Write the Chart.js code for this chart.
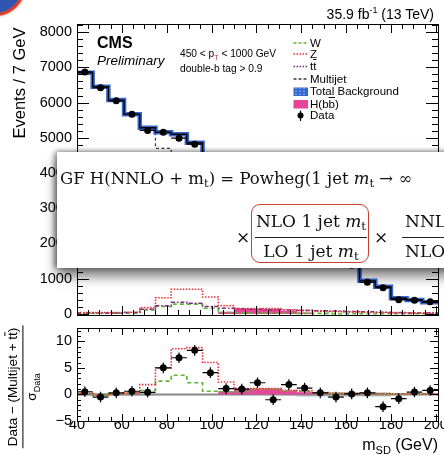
<!DOCTYPE html>
<html>
<head>
<meta charset="utf-8">
<script src="https://cdn.jsdelivr.net/npm/chart.js@4.4.1/dist/chart.umd.min.js"></script>
<style>
html, body { margin: 0; padding: 0; background: #fff; }
#page { position: relative; width: 444px; height: 455px; overflow: hidden; font-family: "Liberation Sans", Arial, sans-serif; color: #000; }
canvas { position: absolute; left: 0; }
.t { position: absolute; white-space: nowrap; line-height: 1; }
.rot { position: absolute; white-space: nowrap; line-height: 1; transform: translate(-50%, -50%) rotate(-90deg); }
.ov { text-decoration: overline; }
.leg { position: absolute; left: 310px; font-size: 11.5px; line-height: 1; white-space: nowrap; }
#logo { position: absolute; left: -38px; top: -48px; width: 58px; height: 58px; border: 3px solid #d2402f; border-radius: 50%; background: #2f55b5; box-shadow: 0 0 3px #d2402f; }
#slide { position: absolute; left: 57px; top: 152px; width: 420px; height: 116px; background: #fff; box-shadow: 0 8px 12px rgba(0,0,0,0.55), -3px 0 5px rgba(0,0,0,0.35), 0 -2px 4px rgba(0,0,0,0.2); }
.f { position: absolute; white-space: nowrap; line-height: 1; font-family: "DejaVu Serif", "Liberation Serif", serif; font-size: 17px; color: #111; }
.f sub { font-size: 0.7em; vertical-align: -0.25em; }
#redbox { position: absolute; left: 251px; top: 204px; width: 118px; height: 59px; box-sizing: border-box; border: 1.5px solid #c8412f; border-radius: 9px; }
.bar { position: absolute; height: 0; border-top: 1px solid #222; }
</style>
</head>
<body>
<div id="page">
  <div id="logo"></div>
  <canvas id="topChart" width="444" height="322" style="top:0"></canvas>
  <canvas id="ratioChart" width="444" height="133" style="top:322px"></canvas>

  <div class="t" style="right:10px; top:6px; font-size:14px;">35.9 fb<sup style="font-size:9px;">-1</sup> (13 TeV)</div>
  <div class="t" style="left:97px; top:35px; font-size:16px; font-weight:bold;">CMS</div>
  <div class="t" style="left:97px; top:54px; font-size:13.5px; font-style:italic;">Preliminary</div>
  <div class="t" style="left:180px; top:48.5px; font-size:10.2px;">450 &lt; p<sub style="font-size:7px; color:#c0392b;">T</sub> &lt; 1000 GeV</div>
  <div class="t" style="left:180px; top:64px; font-size:10.2px;">double-b tag &gt; 0.9</div>

  <svg style="position:absolute; left:290px; top:35px;" width="22" height="90">
    <line x1="3.5" x2="18" y1="8" y2="8" stroke="#5ab732" stroke-width="1.6" stroke-dasharray="3,2"/>
    <line x1="3.5" x2="18" y1="19" y2="19" stroke="#e8333a" stroke-width="1.6" stroke-dasharray="1.5,1.5"/>
    <line x1="3.5" x2="18" y1="31.5" y2="31.5" stroke="#7b2d83" stroke-width="1.6" stroke-dasharray="1.5,1.5"/>
    <line x1="3.5" x2="18" y1="44" y2="44" stroke="#3a3a3a" stroke-width="1.3" stroke-dasharray="3,2"/>
    <rect x="3.5" y="52.5" width="14.5" height="8.5" fill="#3667cf"/>
    <line x1="6" x2="6" y1="52.5" y2="61" stroke="#a8c0f0" stroke-width="1" stroke-dasharray="1.5,1.5"/>
    <line x1="10" x2="10" y1="52.5" y2="61" stroke="#a8c0f0" stroke-width="1" stroke-dasharray="1.5,1.5"/>
    <line x1="14" x2="14" y1="52.5" y2="61" stroke="#a8c0f0" stroke-width="1" stroke-dasharray="1.5,1.5"/>
    <rect x="3.5" y="65" width="14.5" height="8.5" fill="#e6459a"/>
    <line x1="10.5" x2="10.5" y1="75.5" y2="86" stroke="#000" stroke-width="1.2"/>
    <circle cx="10.5" cy="80.5" r="3" fill="#000"/>
  </svg>
  <div class="leg" style="top:37.5px;">W</div>
  <div class="leg" style="top:48.5px;">Z</div>
  <div class="leg" style="top:61px;">t<span class="ov">t</span></div>
  <div class="leg" style="top:73.5px;">Multijet</div>
  <div class="leg" style="top:86px;">Total Background</div>
  <div class="leg" style="top:98.5px;">H(b<span class="ov">b</span>)</div>
  <div class="leg" style="top:110px;">Data</div>

  <div class="rot" style="left:19px; top:83px; font-size:16.5px;">Events / 7 GeV</div>
  <div class="rot" style="left:24px; top:387px; font-size:13.5px; text-align:center;">
    <div style="padding:0 2px 2px 2px;">Data &minus; (Multijet + t<span class="ov">t</span>)</div>
    <div style="border-top:1px solid #000; padding-top:2px;">&sigma;<sub style="font-size:9px;">Data</sub></div>
  </div>
  <div class="t" style="right:6px; top:437px; font-size:16px;">m<sub style="font-size:11px;">SD</sub> (GeV)</div>

  <div id="slide"></div>
  <div class="f" style="left:60px; top:170.5px; font-size:16.5px;">GF H(NNLO + m<sub>t</sub>) = Powheg(1 jet <i>m</i><sub>t</sub> &rarr; &infin;</div>
  <div class="f" style="left:236px; top:228.5px;">&times;</div>
  <div class="f" style="left:255px; width:112px; text-align:center; top:212.5px;">NLO 1 jet <i>m</i><sub>t</sub></div>
  <div class="bar" style="left:255px; width:112px; top:237px;"></div>
  <div class="f" style="left:255px; width:112px; text-align:center; top:242.5px;">LO 1 jet <i>m</i><sub>t</sub></div>
  <div id="redbox"></div>
  <div class="f" style="left:374px; top:228.5px;">&times;</div>
  <div class="f" style="left:405px; top:212.5px;">NNLO 0 jet <i>m</i><sub>t</sub> &rarr; &infin;</div>
  <div class="bar" style="left:402px; width:60px; top:237px;"></div>
  <div class="f" style="left:405px; top:242.5px;">NLO 0 jet <i>m</i><sub>t</sub> &rarr; &infin;</div>
</div>

<script>
// binning (7 GeV bins in soft-drop mass)
const binEdges = [40, 47, 54, 61, 68, 75, 82, 89, 96, 103, 110, 117, 124, 131, 138, 145, 152, 159, 166, 173, 180, 187, 194, 201];
const binCenters = [43.5, 50.5, 57.5, 64.5, 71.5, 78.5, 85.5, 92.5, 99.5, 106.5, 113.5, 120.5, 127.5, 134.5, 141.5, 148.5, 155.5, 162.5, 169.5, 176.5, 183.5, 190.5, 197.5];

// upper panel, events / 7 GeV
const dataEvents = [6870, 6420, 6050, 5665, 5210, 5155, 4990, 4820, 4350, 3850, 3350, 2900, 2500, 2150, 1900, 1700, 1530, 1380, 900, 746, 406, 389, 349];
const dataEventsErr = [83, 80, 78, 75, 72, 72, 71, 69, 66, 62, 58, 54, 50, 46, 44, 41, 39, 37, 30, 27, 20, 20, 19];
const totalBkg = [6845, 6450, 6070, 5665, 5285, 5155, 5100, 4860, 4380, 3850, 3360, 2920, 2520, 2170, 1900, 1700, 1520, 1390, 940, 775, 445, 397, 332];
const multijet = [6830, 6440, 6060, 5640, 5220, 4700, 4420, 4250, 3950, 3600, 3200, 2780, 2400, 2080, 1830, 1650, 1480, 1350, 910, 750, 430, 385, 322];
const wJets = [20, 20, 20, 20, 110, 210, 280, 280, 160, 40, 30, 25, 20, 20, 15, 15, 10, 10, 10, 10, 5, 5, 5];
const zJets = [40, 40, 40, 50, 180, 460, 700, 700, 480, 235, 150, 150, 150, 120, 100, 80, 70, 60, 50, 40, 30, 30, 30];
const ttbar = [30, 30, 30, 40, 130, 235, 330, 300, 210, 160, 150, 130, 120, 110, 100, 90, 80, 70, 60, 50, 40, 30, 30];
const hbb = [0, 0, 0, 0, 0, 0, 0, 0, 0, 60, 150, 150, 150, 80, 40, 0, 0, 0, 0, 0, 0, 0, 0];

// lower panel, (data - (multijet + ttbar)) / sigma
const dataPull = [0.5, -0.5, 0.3, 0.6, 0.4, 5.0, 6.9, 8.3, 4.1, 1.1, 1.0, 2.2, -1.0, 1.85, 1.2, 0.3, -0.5, 0.1, 0.3, -2.3, -0.8, 0.45, 0.75];
const dataPullErr = [1, 1, 1, 1, 1, 1, 1, 1, 1, 1, 1, 1, 1, 1, 1, 1, 1, 1, 1, 1, 1, 1, 1];
const zPull = [0.2, -0.2, 0.1, 0.3, 1.85, 5.0, 8.6, 8.8, 6.0, 2.35, 1.1, 1.1, 1.1, 0.8, 0.7, 0.35, 0.2, 0.15, 0.15, 0.1, 0.1, 0.1, 0.1];
const wPull = [0.2, -0.2, 0.1, 0.3, 0.75, 2.5, 3.6, 2.2, 0.6, 0.5, 0.5, 1.0, 1.0, 0.7, 0.6, 0.3, 0.15, 0.15, 0.15, 0.1, 0.1, 0.1, 0.1];
const hbbPull = [0, 0, 0, 0, 0, 0, 0, 0, 0, 0.6, 1.0, 1.1, 1.1, 0.7, 0.4, 0.1, 0, 0, 0, 0, 0, 0, 0];
const bkgPullErr = [0.25, 0.25, 0.25, 0.25, 0.2, 0.15, 0.15, 0.15, 0.15, 0.15, 0.15, 0.15, 0.15, 0.2, 0.4, 0.4, 0.4, 0.4, 0.4, 0.4, 0.1, 0.1, 0.1];

// axis ticks
const eventTicks = [0, 1000, 2000, 3000, 4000, 5000, 6000, 7000, 8000];
const pullTicks = [-5, 0, 5, 10];
const massTicks = [40, 60, 80, 100, 120, 140, 160, 180, 200];

const tickFont = { family: '"Liberation Sans", Arial, sans-serif', size: 14.5 };

function steps(values) {
    return binEdges.map((e, i) => ({ x: e, y: values[Math.min(i, values.length - 1)] }));
}
function points(values) {
    return values.map((v, i) => ({ x: binCenters[i], y: v }));
}
function histLine(values, color, width, dash, order) {
    return {
        data: steps(values), stepped: true, borderColor: color, borderWidth: width,
        borderDash: dash, pointRadius: 0, fill: false, order: order
    };
}

// inner ROOT-style ticks and frame
const frame = {
    id: 'frame',
    beforeDatasetsDraw(chart, args, opts) {
        if (!opts.zeroLine) return;
        const { ctx, chartArea: a, scales: { y } } = chart;
        const py = y.getPixelForValue(0);
        ctx.save();
        ctx.strokeStyle = '#8c8c8c';
        ctx.lineWidth = 2;
        ctx.beginPath();
        ctx.moveTo(a.left, py);
        ctx.lineTo(a.right, py);
        ctx.stroke();
        ctx.restore();
    },
    afterDraw(chart, args, opts) {
        const { ctx, chartArea: a, scales: { x, y } } = chart;
        ctx.save();
        ctx.strokeStyle = '#000';
        ctx.lineWidth = 1;
        ctx.strokeRect(Math.round(a.left) + 0.5, Math.round(a.top) + 0.5, Math.round(a.right - a.left), Math.round(a.bottom - a.top));
        ctx.beginPath();
        for (let k = Math.ceil(x.min / opts.xMinor); k * opts.xMinor <= x.max; k++) {
            const v = k * opts.xMinor;
            const px = Math.round(x.getPixelForValue(v)) + 0.5;
            const len = v % opts.xMajor === 0 ? opts.xLen[0] : opts.xLen[1];
            ctx.moveTo(px, a.bottom); ctx.lineTo(px, a.bottom - len);
            ctx.moveTo(px, a.top); ctx.lineTo(px, a.top + len);
        }
        for (let k = Math.ceil(y.min / opts.yMinor); k * opts.yMinor <= y.max; k++) {
            const v = k * opts.yMinor;
            const py = Math.round(y.getPixelForValue(v)) + 0.5;
            const len = v % opts.yMajor === 0 ? opts.yLen[0] : opts.yLen[1];
            ctx.moveTo(a.left, py); ctx.lineTo(a.left + len, py);
            ctx.moveTo(a.right, py); ctx.lineTo(a.right - len, py);
        }
        ctx.stroke();
        ctx.restore();
    }
};

// data error bars
const errorBars = {
    id: 'errorBars',
    afterDatasetsDraw(chart) {
        const { ctx, scales: { x, y } } = chart;
        chart.data.datasets.forEach(ds => {
            if (!ds.errY) return;
            ctx.save();
            ctx.strokeStyle = '#000';
            ctx.lineWidth = 1.2;
            ctx.beginPath();
            ds.data.forEach((p, i) => {
                const px = x.getPixelForValue(p.x);
                const py = y.getPixelForValue(p.y);
                ctx.moveTo(x.getPixelForValue(p.x - ds.errX), py);
                ctx.lineTo(x.getPixelForValue(p.x + ds.errX), py);
                ctx.moveTo(px, y.getPixelForValue(p.y - ds.errY[i]));
                ctx.lineTo(px, y.getPixelForValue(p.y + ds.errY[i]));
            });
            ctx.stroke();
            ctx.restore();
        });
    }
};

function yAxis(min, max, ticks, fmt) {
    return {
        min: min, max: max,
        afterBuildTicks: s => { s.ticks = ticks.map(v => ({ value: v })); },
        afterFit: s => { s.width = 77; s.paddingTop = 0; s.paddingBottom = 0; },
        grid: { display: false, drawTicks: false },
        border: { display: false },
        ticks: { font: tickFont, color: '#000', padding: 5, callback: fmt }
    };
}

const topChart = new Chart(document.getElementById('topChart'), {
    type: 'line',
    data: {
        datasets: [
            { data: points(dataEvents), errY: dataEventsErr, errX: 3.5, showLine: false, pointRadius: 3.5, pointBackgroundColor: '#000', pointBorderWidth: 0, order: 0 },
            histLine(totalBkg, '#000', 1.3, [], 1),
            histLine(totalBkg, '#3667cf', 4.5, [], 2),
            histLine(multijet, '#3a3a3a', 1.2, [3, 2.5], 3),
            histLine(zJets, '#e8333a', 1.6, [1.5, 1.5], 4),
            histLine(ttbar, '#7b2d83', 1.5, [4, 2, 1.5, 2], 5),
            histLine(wJets, '#5ab732', 1.6, [4, 3], 6),
            { data: steps(hbb), stepped: true, borderWidth: 0, pointRadius: 0, fill: 'origin', backgroundColor: '#e6459a', order: 7 }
        ]
    },
    options: {
        responsive: false, animation: false, devicePixelRatio: 1,
        layout: { padding: { left: 0, right: 6, top: 24, bottom: 7 } },
        plugins: {
            legend: { display: false }, tooltip: { enabled: false },
            frame: { xMinor: 5, xMajor: 20, xLen: [9, 5], yMinor: 200, yMajor: 1000, yLen: [12, 6] }
        },
        scales: {
            x: { type: 'linear', min: 40, max: 201, display: false },
            y: yAxis(-30, 8230, eventTicks, v => String(v))
        }
    },
    plugins: [frame, errorBars]
});

const ratioChart = new Chart(document.getElementById('ratioChart'), {
    type: 'line',
    data: {
        datasets: [
            { data: points(dataPull), errY: dataPullErr, errX: 3.5, showLine: false, pointRadius: 3.5, pointBackgroundColor: '#000', pointBorderWidth: 0, order: 0 },
            histLine(zPull, '#e8333a', 1.6, [1.5, 1.5], 3),
            histLine(wPull, '#5ab732', 1.6, [4, 3], 4),
            { data: steps(hbbPull), stepped: true, borderWidth: 0, pointRadius: 0, fill: 'origin', backgroundColor: '#e6459a', order: 5 },
            { data: steps(bkgPullErr.map(v => -v)), stepped: true, borderWidth: 0, pointRadius: 0, fill: false, order: 7 },
            { data: steps(bkgPullErr), stepped: true, borderWidth: 0, pointRadius: 0, fill: '-1', backgroundColor: 'rgba(140,140,140,0.55)', order: 6 }
        ]
    },
    options: {
        responsive: false, animation: false, devicePixelRatio: 1,
        layout: { padding: { left: 0, right: 6, top: 6, bottom: 0 } },
        plugins: {
            legend: { display: false }, tooltip: { enabled: false },
            frame: { xMinor: 5, xMajor: 20, xLen: [7, 4], yMinor: 1, yMajor: 5, yLen: [8, 4], zeroLine: true }
        },
        scales: {
            x: {
                type: 'linear', min: 40, max: 201,
                afterBuildTicks: s => { s.ticks = massTicks.map(v => ({ value: v })); },
                afterFit: s => { s.height = 34; s.paddingLeft = 0; s.paddingRight = 0; },
                grid: { display: false, drawTicks: false },
                border: { display: false },
                ticks: { font: tickFont, color: '#000', padding: -5, maxRotation: 0, autoSkip: false }
            },
            y: yAxis(-5, 12.5, pullTicks, v => v < 0 ? '\u2212' + (-v) : String(v))
        }
    },
    plugins: [frame, errorBars]
});
</script>
</body>
</html>
